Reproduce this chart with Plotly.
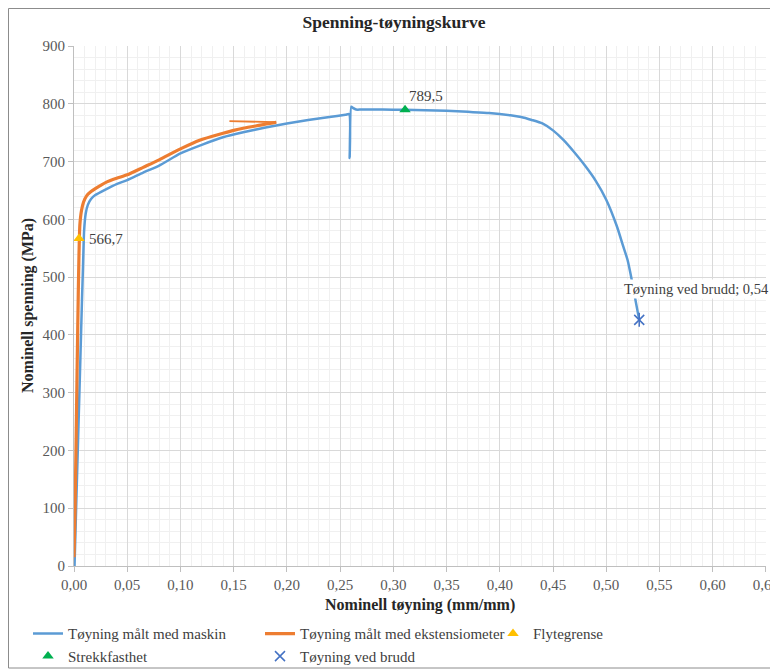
import plotly.graph_objects as go

# Nominell tøyning (mm/mm) og spenning (MPa) - målt med maskin
toyning_maskin = [0.0005, 0.002, 0.004, 0.006, 0.0075, 0.0085, 0.0095, 0.011, 0.013, 0.016,
                  0.020, 0.030, 0.040, 0.050, 0.065, 0.080, 0.100, 0.120, 0.140, 0.160,
                  0.180, 0.200, 0.220, 0.240, 0.255, 0.2585, 0.2590, 0.2605, 0.262, 0.265,
                  0.270, 0.290, 0.310, 0.330, 0.350, 0.370, 0.390, 0.410, 0.420, 0.430,
                  0.440, 0.450, 0.460, 0.470, 0.480, 0.490, 0.500, 0.510, 0.516, 0.520,
                  0.524, 0.528, 0.531]
spenning_maskin = [0, 100, 230, 360, 460, 520, 580, 610, 625, 635,
                   642, 652, 661, 668, 681, 693, 714, 729, 742, 751,
                   759, 766, 772, 777, 781, 782, 706, 795, 793, 790,
                   790, 790, 789.5, 789, 788, 786, 784, 780, 777, 772,
                   766, 754, 737, 716, 693, 667, 634, 588, 553, 530,
                   495, 455, 426]

# Målt med ekstensiometer
toyning_ekst = [0.0, 0.001, 0.002, 0.003, 0.004, 0.0047, 0.0055, 0.007, 0.009, 0.012,
                0.016, 0.020, 0.030, 0.040, 0.050, 0.065, 0.080, 0.100, 0.118, 0.140,
                0.150, 0.160, 0.175, 0.187, 0.190]
spenning_ekst = [15, 100, 220, 350, 470, 540, 590, 615, 630, 641,
                 648, 653, 664, 671, 677, 690, 703, 722, 737, 749,
                 754, 758, 763, 767, 768]
# siste del av ekstensiometer-målingen (tilbake mot venstre)
toyning_ekst_retur = [0.190, 0.170, 0.155, 0.148, 0.146]
spenning_ekst_retur = [768, 769, 769.5, 771, 770]

# Markerte punkter
flyt_x, flyt_y = [0.0047], [566.7]
strekk_x, strekk_y = [0.311], [789.5]
brudd_x, brudd_y = [0.531], [426]

FONT = "Liberation Serif"
BLUE, ORANGE = "#5B9BD5", "#ED7D31"
fig = go.Figure()

fig.add_trace(go.Scatter(x=toyning_maskin, y=spenning_maskin, mode="lines",
                         name="Tøyning målt med maskin", legend="legend",
                         line=dict(color=BLUE, width=2.5, shape="spline", smoothing=0.6)))
fig.add_trace(go.Scatter(x=toyning_ekst, y=spenning_ekst, mode="lines",
                         name="Tøyning målt med ekstensiometer", legend="legend2",
                         line=dict(color=ORANGE, width=3.2, shape="spline", smoothing=0.6)))
fig.add_trace(go.Scatter(x=toyning_ekst_retur, y=spenning_ekst_retur, mode="lines",
                         showlegend=False, line=dict(color=ORANGE, width=1.8)))
fig.add_trace(go.Scatter(x=flyt_x, y=flyt_y, mode="markers", name="Flytegrense",
                         legend="legend3",
                         marker=dict(symbol="triangle-up", size=10, color="#FFC000")))
fig.add_trace(go.Scatter(x=strekk_x, y=strekk_y, mode="markers", name="Strekkfasthet",
                         legend="legend",
                         marker=dict(symbol="triangle-up", size=10, color="#00B050")))
fig.add_trace(go.Scatter(x=brudd_x, y=brudd_y, mode="markers", name="Tøyning ved brudd",
                         legend="legend2",
                         marker=dict(symbol="x-thin-open", size=10, color="#4472C4",
                                     line=dict(color="#4472C4", width=1.5))))
fig.add_trace(go.Scatter(x=brudd_x, y=brudd_y, mode="markers", showlegend=False,
                         marker=dict(symbol="line-ns-open", size=10, color="#4472C4",
                                     line=dict(color="#4472C4", width=1.5))))

ann_font = dict(family=FONT, size=15, color="#404040")
fig.add_annotation(x=flyt_x[0], y=flyt_y[0], text="566,7", showarrow=False,
                   xanchor="left", yanchor="middle", xshift=8, font=ann_font)
fig.add_annotation(x=strekk_x[0], y=strekk_y[0], text="789,5", showarrow=False,
                   xanchor="left", yanchor="bottom", xshift=2, yshift=4, font=ann_font)
fig.add_annotation(x=brudd_x[0], y=brudd_y[0], text="Tøyning ved brudd; 0,54",
                   showarrow=False, xanchor="left", yanchor="middle", xshift=-17,
                   yshift=31, bgcolor="white", borderpad=1,
                   font=dict(family=FONT, size=14.5, color="#404040"))

# aksetitler som annotasjoner
title_font = dict(family=FONT, size=16, color="#262626")
fig.add_annotation(xref="paper", yref="paper", x=0.5, y=-39 / 520,
                   text="<b>Nominell tøyning (mm/mm)</b>", showarrow=False,
                   xanchor="center", yanchor="middle", font=title_font)
fig.add_annotation(xref="paper", yref="paper", x=-46 / 692, y=0.5,
                   text="<b>Nominell spenning (MPa)</b>", showarrow=False, textangle=-90,
                   xanchor="center", yanchor="middle", font=title_font)

# ramme rundt hele diagrammet (plotområdet er 692 x 520 px)
fig.add_shape(type="rect", xref="paper", yref="paper",
              x0=-65.5 / 692, x1=702 / 692, y0=-102 / 520, y1=557.5 / 520,
              line=dict(color="#8c8c8c", width=1), layer="below")

axis_common = dict(showgrid=True, gridcolor="#d9d9d9", gridwidth=1, showline=True,
                   linecolor="#bfbfbf", ticks="outside", ticklen=5, tickcolor="#bfbfbf",
                   zeroline=False, tickfont=dict(family=FONT, size=15, color="#595959"))

W = 778
legend_common = dict(orientation="v", xref="container", yref="container",
                     xanchor="left", yanchor="top", y=0.0795, bgcolor="rgba(0,0,0,0)",
                     font=dict(family=FONT, size=15, color="#404040"))

fig.update_layout(
    width=W, height=662,
    separators=",.",
    paper_bgcolor="white", plot_bgcolor="white",
    margin=dict(l=66, r=20, t=38, b=104, autoexpand=False),
    title=dict(text="<b>Spenning-tøyningskurve</b>", x=386 / W, xanchor="center",
               y=0.979, yanchor="middle",
               font=dict(family=FONT, size=17.5, color="#262626")),
    xaxis=dict(range=[0, 0.6501], dtick=0.05, tickformat=".2f",
               ticklabeloverflow="allow",
               minor=dict(dtick=0.01, showgrid=True, gridcolor="#f0f0f0"),
               **axis_common),
    yaxis=dict(range=[0, 900], dtick=100,
               minor=dict(dtick=20, showgrid=True, gridcolor="#f0f0f0"),
               **axis_common),
    legend=dict(x=20 / W, **legend_common),
    legend2=dict(x=252 / W, **legend_common),
    legend3=dict(x=485 / W, **legend_common),
)

fig.write_html("out.html")
